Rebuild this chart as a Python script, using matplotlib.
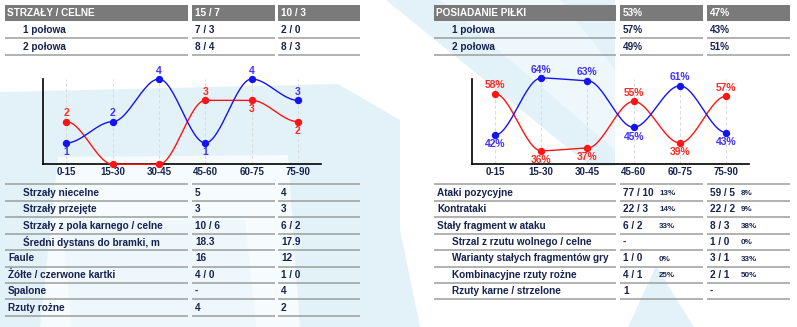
import numpy as np
import matplotlib
matplotlib.use("Agg")
import matplotlib.pyplot as plt
from matplotlib.patches import Polygon, Rectangle

plt.rcParams['font.family'] = ['Liberation Sans', 'DejaVu Sans']
plt.rcParams['font.weight'] = 'bold'

# ---- data ----
periods = ["0-15", "15-30", "30-45", "45-60", "60-75", "75-90"]
shots_home = [1, 2, 4, 1, 4, 3]
shots_away = [2, 0, 0, 3, 3, 2]
poss_home = [42, 64, 63, 45, 61, 43]
poss_away = [58, 36, 37, 55, 39, 57]

shots_head = ["STRZAŁY / CELNE", "15 / 7", "10 / 3"]
shots_halves = [["1 połowa", "7 / 3", "2 / 0"],
                ["2 połowa", "8 / 4", "8 / 3"]]
poss_head = ["POSIADANIE PIŁKI", "53%", "47%"]
poss_halves = [["1 połowa", "57%", "43%"],
               ["2 połowa", "49%", "51%"]]

left_labels = ["Strzały niecelne", "Strzały przejęte", "Strzały z pola karnego / celne",
               "Średni dystans do bramki, m", "Faule", "Żółte / czerwone kartki",
               "Spalone", "Rzuty rożne"]
left_home = ["5", "3", "10 / 6", "18.3", "16", "4 / 0", "-", "4"]
left_away = ["4", "3", "6 / 2", "17.9", "12", "1 / 0", "4", "2"]
left_indent = [1, 1, 1, 1, 0, 0, 0, 0]

right_labels = ["Ataki pozycyjne", "Kontrataki", "Stały fragment w ataku",
                "Strzal z rzutu wolnego / celne", "Warianty stałych fragmentów gry",
                "Kombinacyjne rzuty rożne", "Rzuty karne / strzelone"]
right_home = ["77 / 10", "22 / 3", "6 / 2", "-", "1 / 0", "4 / 1", "1"]
right_home_pct = ["13%", "14%", "33%", "", "0%", "25%", ""]
right_away = ["59 / 5", "22 / 2", "8 / 3", "1 / 0", "3 / 1", "2 / 1", "-"]
right_away_pct = ["8%", "9%", "38%", "0%", "33%", "50%", ""]
right_indent = [0, 0, 0, 1, 1, 1, 1]

# ---- style ----
W, H = 797, 327
FS = 7.2
NAVY = '#17224f'
BLUE, RED = '#1414f0', '#ff1414'
BLUE_TXT, RED_TXT = '#4130ff', '#ff2a22'
HEAD = '#7a7a7a'
RULE = '#9c9c9c'
PALE = '#e3f2f9'
PALER = '#eef7fb'

fig = plt.figure(figsize=(W / 100, H / 100), dpi=100)
bg = fig.add_axes([0, 0, 1, 1], zorder=0)
bg.set_xlim(0, W)
bg.set_ylim(H, 0)
bg.axis('off')

# watermark shapes
shapes = [
    ([(0, 92), (338, 84), (352, 92), (400, 120), (400, 327), (0, 327)], PALE),
    ([(58, 157), (288, 155), (300, 327), (40, 327)], '#f6fbfd'),
    ([(62, 222), (245, 220), (256, 327), (72, 327)], PALER),
    ([(345, 118), (378, 122), (420, 327), (345, 327)], PALE),
    ([(386, 0), (615, 0), (615, 166), (590, 166)], PALE),
    ([(440, 0), (560, 0), (615, 70), (615, 150)], PALER),
    ([(628, 327), (656, 266), (694, 327)], PALE),
]
for pts, c in shapes:
    bg.add_patch(Polygon(pts, closed=True, fc=c, ec='none'))


def table_top(cols, head, halves, lab_x):
    for (x0, x1), txt, tx in zip(cols, head, [cols[0][0] + 2, cols[1][0] + 3, cols[2][0] + 3]):
        bg.add_patch(Rectangle((x0, 5), x1 - x0, 15.5, fc=HEAD, ec='none'))
        bg.text(tx, 12.9, txt, color='white', fontsize=FS, va='center', ha='left')
    for i, row in enumerate(halves):
        ly = 38.3 + 16.2 * i
        for x0, x1 in cols:
            bg.plot([x0, x1], [ly, ly], color=RULE, lw=1.1, solid_capstyle='butt')
        xs = [lab_x, cols[1][0] + 3, cols[2][0] + 3]
        for x, txt in zip(xs, row):
            bg.text(x, ly - 8, txt, color=NAVY, fontsize=FS, va='center')


def table_bottom(cols, labels, indent, vals, lab_x, pct=None):
    n = len(labels)
    for k in range(n + 1):
        ly = 184.3 + 16.45 * k
        for x0, x1 in cols:
            bg.plot([x0, x1], [ly, ly], color=RULE, lw=1.1, solid_capstyle='butt')
    for k in range(n):
        ty = 184.3 + 16.45 * k + 8.3
        bg.text(lab_x + 15 * indent[k], ty, labels[k], color=NAVY, fontsize=FS, va='center')
        for (x0, x1), v in zip(cols[1:], vals):
            bg.text(x0 + 3, ty, v[k], color=NAVY, fontsize=FS, va='center')
        if pct:
            for (x0, x1), p in zip(cols[1:], pct):
                off = 39 if x0 < 700 else 34
                bg.text(x0 + off, ty + 0.8, p[k], color=NAVY, fontsize=5.8, va='center')


left_cols = [(5, 188), (192, 275), (278, 360)]
right_cols = [(434, 616), (620, 703), (707, 790)]
table_top(left_cols, shots_head, shots_halves, 23)
table_top(right_cols, poss_head, poss_halves, 452)
table_bottom(left_cols, left_labels, left_indent, [left_home, left_away], 8)
table_bottom(right_cols, right_labels, right_indent, [right_home, right_away], 437,
             pct=[right_home_pct, right_away_pct])


def smooth(vals, n=30):
    xs, ys = [], []
    for i in range(len(vals) - 1):
        t = np.linspace(0, 1, n)
        s = 3 * t ** 2 - 2 * t ** 3
        xs.append(i + t)
        ys.append(vals[i] + (vals[i + 1] - vals[i]) * s)
    return np.concatenate(xs), np.concatenate(ys)


def chart(rect, home, away, ylim, fmt, skip_zero):
    ax = fig.add_axes(rect, zorder=2)
    ax.patch.set_alpha(0)
    ax.set_xlim(-0.5, 5.5)
    ax.set_ylim(*ylim)
    for s in ['top', 'right']:
        ax.spines[s].set_visible(False)
    for s in ['left', 'bottom']:
        ax.spines[s].set_linewidth(1.2)
        ax.spines[s].set_color('black')
    ax.set_xticks(range(len(periods)))
    ax.set_xticklabels(periods, fontsize=7, color=NAVY, fontweight='bold')
    ax.set_yticks([])
    ax.tick_params(axis='x', length=0, pad=2.2)
    ax.grid(axis='x', color='#dcdcdc', lw=0.8, ls=(0, (3, 2)))
    x = np.arange(len(periods))
    for vals, other, lc, tc in [(away, home, RED, RED_TXT), (home, away, BLUE, BLUE_TXT)]:
        sx, sy = smooth(vals)
        ax.plot(sx, sy, color=lc, lw=1.0, clip_on=False, zorder=3)
        ax.plot(x, vals, 'o', color=lc, ms=4.3, clip_on=False, zorder=4)
        for xi, v, o in zip(x, vals, other):
            if skip_zero and v == 0:
                continue
            dy = 6.0 if v >= o else -6.6
            ax.annotate(fmt(v), (xi, v), xytext=(0, dy), textcoords='offset points',
                        ha='center', va='center', fontsize=7.4, color=tc,
                        fontweight='bold', annotation_clip=False, zorder=5)
    return ax


chart([43.3 / W, 1 - 164.3 / H, 277.7 / W, 85.3 / H], shots_home, shots_away,
      (0, 4), lambda v: f"{v}", True)
chart([471.7 / W, 1 - 164.0 / H, 277.6 / W, 84.7 / H], poss_home, poss_away,
      (30.9, 63.5), lambda v: f"{v}%", False)

fig.savefig('out.png', dpi=100)
